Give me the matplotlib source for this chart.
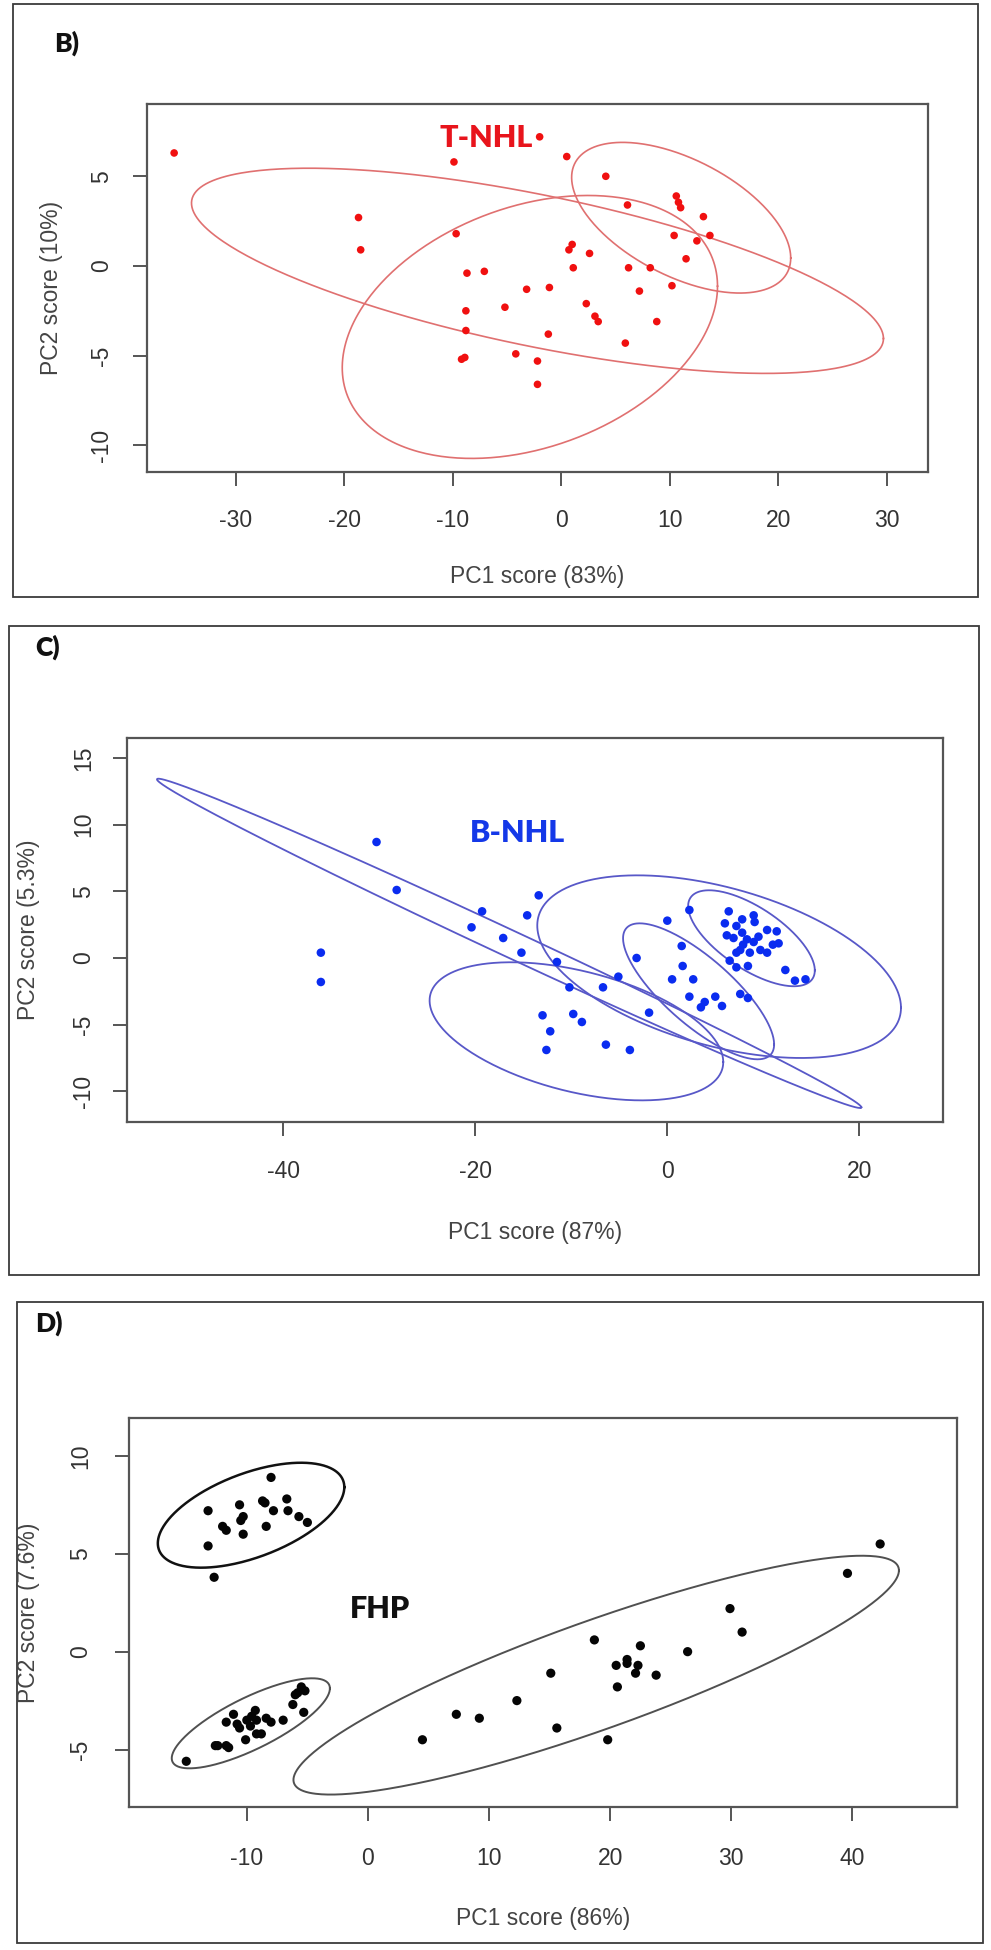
import numpy as np
import matplotlib
matplotlib.use("Agg")
import matplotlib.pyplot as plt
from matplotlib.patches import Rectangle

# ---------------- data ----------------
# Panel B : T-NHL
tnhl_x = [-35.7, -9.9, -18.7, -18.5, -9.7, -8.7, -7.1, -3.2, -5.2, -8.8,
          -8.8, -9.2, -8.9, -4.2, -2.2, -2.2, -2.0, 0.5, 4.1, 6.1,
          10.6, 10.8, 11.0, 13.1, 13.7, 10.4, 12.5, 11.5, 1.0, 0.7,
          2.6, 1.1, 6.2, 8.2, -1.1, 7.2, 10.2, 2.3, 3.1, 3.4,
          8.8, -1.2, 5.9]
tnhl_y = [6.3, 5.8, 2.7, 0.9, 1.8, -0.4, -0.3, -1.3, -2.3, -2.5,
          -3.6, -5.2, -5.1, -4.9, -5.3, -6.6, 7.2, 6.1, 5.0, 3.4,
          3.9, 3.55, 3.25, 2.75, 1.7, 1.7, 1.4, 0.4, 1.2, 0.9,
          0.7, -0.1, -0.1, -0.1, -1.2, -1.4, -1.1, -2.1, -2.8, -3.1,
          -3.1, -3.8, -4.3]
tnhl_ell_cx = [-2.2, -2.9, 11.05]
tnhl_ell_cy = [-0.27, -3.4, 2.69]
tnhl_ell_sx = [31.9, 17.3, 10.1]
tnhl_ell_sy = [5.72, 7.33, 4.2]
tnhl_ell_rho = [-0.66, 0.31, -0.535]

# Panel C : B-NHL
bnhl_x = [-30.3, -28.2, -36.1, -36.1, -19.3, -20.4, -14.6, -17.1, -15.2, -13.4,
          -11.5, -10.2, -13.0, -9.8, -8.9, -12.2, -12.6, -6.7, -5.1, -6.4,
          -3.9, -3.2, -1.9, 0.0, 2.3, 1.5, 1.6, 0.5, 2.7, 2.3,
          3.5, 3.9, 5.0, 5.7, 7.6, 8.4,
          6.4, 7.8, 9.0, 6.0, 7.2, 6.2, 6.9, 7.8, 8.3, 7.6,
          9.0, 9.7, 10.4, 11.0, 10.4, 11.4, 11.6, 6.5, 7.2, 8.4,
          12.3, 13.3, 14.4, 9.1, 7.9, 8.6, 9.5, 7.2]
bnhl_y = [8.7, 5.1, 0.4, -1.8, 3.5, 2.3, 3.2, 1.5, 0.4, 4.7,
          -0.3, -2.2, -4.3, -4.2, -4.8, -5.5, -6.9, -2.2, -1.4, -6.5,
          -6.9, 0.0, -4.1, 2.8, 3.6, 0.9, -0.6, -1.6, -1.6, -2.9,
          -3.7, -3.3, -2.9, -3.6, -2.7, -3.0,
          3.5, 2.9, 3.2, 2.6, 2.4, 1.7, 1.5, 1.9, 1.4, 0.6,
          1.2, 0.6, 0.4, 1.0, 2.1, 2.0, 1.1, -0.2, -0.7, -0.6,
          -0.9, -1.7, -1.6, 2.7, 1.0, 0.4, 1.6, 0.4]
bnhl_ell_cx = [-16.48, -9.47, 3.26, 5.4, 8.77]
bnhl_ell_cy = [1.1, -5.5, -2.5, -0.65, 1.48]
bnhl_ell_sx = [36.7, 15.3, 7.87, 18.95, 6.6]
bnhl_ell_sy = [12.35, 5.18, 5.1, 6.85, 3.6]
bnhl_ell_rho = [-0.996, -0.445, -0.78, -0.45, -0.67]

# Panel D : FHP
fhp_x = [-8.0, -13.2, -10.6, -8.7, -8.5, -6.7, -7.8, -6.6, -5.7, -5.0,
         -10.3, -10.5, -12.0, -11.7, -8.4, -10.3, -13.2, -12.7,
         -15.0, -12.6, -12.4, -11.5, -11.7, -10.1, -9.2, -8.8, -11.1, -11.7,
         -10.8, -10.6, -10.0, -9.6, -9.3, -9.7, -9.2, -8.4, -8.0, -7.0,
         -5.3, -6.2, -6.0, -5.8, -5.5, -5.2,
         4.5, 7.3, 9.2, 12.3, 15.1, 15.6, 18.7, 19.8, 20.5, 20.6,
         21.4, 21.4, 22.3, 22.1, 22.5, 23.8, 26.4, 29.9, 30.9, 39.6, 42.3]
fhp_y = [8.9, 7.2, 7.5, 7.7, 7.6, 7.8, 7.2, 7.2, 6.9, 6.6,
         6.9, 6.7, 6.4, 6.2, 6.4, 6.0, 5.4, 3.8,
         -5.6, -4.8, -4.8, -4.9, -4.8, -4.5, -4.2, -4.2, -3.2, -3.6,
         -3.7, -3.9, -3.5, -3.3, -3.0, -3.8, -3.5, -3.4, -3.6, -3.5,
         -3.1, -2.7, -2.2, -2.1, -1.8, -2.0,
         -4.5, -3.2, -3.4, -2.5, -1.1, -3.9, 0.6, -4.5, -0.7, -1.8,
         -0.4, -0.6, -0.7, -1.1, 0.3, -1.2, 0.0, 2.2, 1.0, 4.0, 5.5]
fhp_ell_cx = [-9.65, -9.67, 18.85]
fhp_ell_cy = [6.97, -3.66, -1.2]
fhp_ell_sx = [7.7, 6.53, 25.0]
fhp_ell_sy = [2.68, 2.3, 6.1]
fhp_ell_rho = [0.535, 0.775, 0.877]

# ---------------- layout ----------------
W, H = 991, 1950
fig = plt.figure(figsize=(W / 100, H / 100), dpi=100)
PX = 72.0 / 100.0  # points per pixel

TICKFONT = ['Liberation Sans', 'DejaVu Sans']
BOLDFONT = ['Lato', 'DejaVu Sans']


def frame(x0, y0, x1, y1):
    fig.add_artist(Rectangle((x0 / W, 1 - y1 / H), (x1 - x0) / W, (y1 - y0) / H,
                             transform=fig.transFigure, fill=False,
                             ec='#3a3a3a', lw=1.3))


def make_axes(box, xlim, ylim, xticks, yticks, xpad, ypad):
    l, t, r, b = box
    ax = fig.add_axes([l / W, 1 - b / H, (r - l) / W, (b - t) / H])
    ax.set_xlim(*xlim)
    ax.set_ylim(*ylim)
    ax.set_xticks(xticks)
    ax.set_yticks(yticks)
    ax.set_xticklabels([str(v) for v in xticks])
    ax.set_yticklabels([str(v) for v in yticks])
    for s in ax.spines.values():
        s.set_color('#555555')
        s.set_linewidth(1.6)
    ax.tick_params(axis='both', direction='out', length=14 * PX, width=1.4,
                   color='#555555', labelcolor='#333333', labelsize=16.5)
    ax.tick_params(axis='x', pad=xpad * PX)
    ax.tick_params(axis='y', pad=ypad * PX)
    for lab in ax.get_xticklabels() + ax.get_yticklabels():
        lab.set_family(TICKFONT)
    for lab in ax.get_yticklabels():
        lab.set_rotation(90)
        lab.set_va('center')
        lab.set_ha('right')
    return ax


def ellipses(ax, cx, cy, sx, sy, rho, color, lw):
    t = np.linspace(0, 2 * np.pi, 400)
    for i in range(len(cx)):
        ex = cx[i] + sx[i] * np.cos(t)
        ey = cy[i] + sy[i] * (rho[i] * np.cos(t) - np.sqrt(1 - rho[i] ** 2) * np.sin(t))
        ax.plot(ex, ey, color=color[i] if isinstance(color, list) else color,
                lw=lw[i] if isinstance(lw, list) else lw, zorder=2)


def labels(box, xl, yl, xlab_y, ylab_x):
    l, t, r, b = box
    fig.text((l + r) / 2 / W, 1 - xlab_y / H, xl, ha='center', va='center',
             fontsize=16.5, color='#444444', family=TICKFONT)
    fig.text(ylab_x / W, 1 - (t + b) / 2 / H, yl, ha='center', va='center',
             rotation=90, fontsize=16.5, color='#444444', family=TICKFONT)


def panel_letter(x, y, s):
    fig.text(x / W, 1 - y / H, s, fontsize=19, fontweight='heavy', family=BOLDFONT,
             ha='center', va='center', color='#111111')


# ---------- Panel B ----------
frame(12.7, 4, 978, 597.3)
boxB = (146.7, 104, 927.7, 471.7)
axB = make_axes(boxB, (-38.23, 33.78), (-11.47, 9.03),
                [-30, -20, -10, 0, 10, 20, 30], [-10, -5, 0, 5], 23, 20)
ellipses(axB, tnhl_ell_cx, tnhl_ell_cy, tnhl_ell_sx, tnhl_ell_sy, tnhl_ell_rho,
         '#E07070', 1.2)
axB.scatter(tnhl_x, tnhl_y, s=30, color='#F01010', edgecolors='none', zorder=3)
axB.text(-6.9, 7.16, 'T-NHL', color='#E8141C', fontsize=22, fontweight='heavy',
         family=BOLDFONT, ha='center', va='center', zorder=4)
labels(boxB, 'PC1 score (83%)', 'PC2 score (10%)', 577, 52)
panel_letter(67, 43, 'B)')

# ---------- Panel C ----------
frame(8.8, 625.7, 978.5, 1274.5)
boxC = (127.3, 738.3, 943.3, 1121.7)
axC = make_axes(boxC, (-56.27, 28.76), (-12.28, 16.48),
                [-40, -20, 0, 20], [-10, -5, 0, 5, 10, 15], 24, 18)
ellipses(axC, bnhl_ell_cx, bnhl_ell_cy, bnhl_ell_sx, bnhl_ell_sy, bnhl_ell_rho,
         '#5858C8', 1.3)
axC.scatter(bnhl_x, bnhl_y, s=38, color='#0A2CF0', edgecolors='none', zorder=3)
axC.text(-15.6, 9.38, 'B-NHL', color='#1438E8', fontsize=22, fontweight='heavy',
         family=BOLDFONT, ha='center', va='center', zorder=4)
labels(boxC, 'PC1 score (87%)', 'PC2 score (5.3%)', 1232, 28.4)
panel_letter(48, 647, 'C)')

# ---------- Panel D ----------
frame(17, 1301.8, 983, 1943.2)
boxD = (129, 1418.3, 957.3, 1807.3)
axD = make_axes(boxD, (-19.73, 48.67), (-7.95, 11.92),
                [-10, 0, 10, 20, 30, 40], [-5, 0, 5, 10], 26, 23)
ellipses(axD, fhp_ell_cx, fhp_ell_cy, fhp_ell_sx, fhp_ell_sy, fhp_ell_rho,
         ['#111111', '#505050', '#505050'], [1.8, 1.4, 1.4])
axD.scatter(fhp_x, fhp_y, s=44, color='#050505', edgecolors='none', zorder=3)
axD.text(1.0, 2.2, 'FHP', color='#111111', fontsize=22, fontweight='heavy',
         family=BOLDFONT, ha='center', va='center', zorder=4)
labels(boxD, 'PC1 score (86%)', 'PC2 score (7.6%)', 1919, 28.4)
panel_letter(49, 1323, 'D)')

fig.savefig('out.png', dpi=100, facecolor='white')
